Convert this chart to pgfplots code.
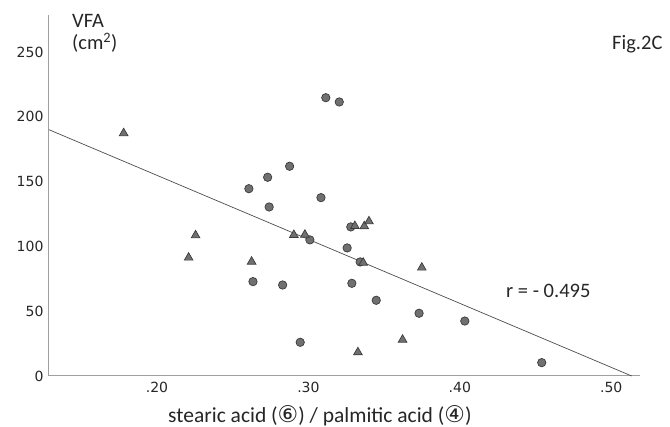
\documentclass[border=0pt]{standalone}
\usepackage{pgfplots}
\pgfplotsset{compat=1.18}
\usepackage{fontspec}
\setmainfont{Carlito}
\newfontfamily\dejavu{DejaVu Sans}
\definecolor{mk}{HTML}{707070}
\definecolor{mkedge}{HTML}{3A3A3A}
\definecolor{txt}{HTML}{262626}
\begin{document}
\begin{tikzpicture}[x=1pt,y=1pt]
\path[use as bounding box] (0,0) rectangle (670,427);
\begin{axis}[
  at={(49pt,51pt)}, anchor=origin,
  scale only axis, width=591pt, height=361pt,
  xmin=0.1287, xmax=0.519, ymin=0, ymax=278.5,
  axis x line*=bottom, axis y line*=left,
  axis line style={draw=gray!75, line width=1pt, -},
  xtick={0.2,0.3,0.4,0.5}, xticklabels={.20,.30,.40,.50},
  ytick={0,50,100,150,200,250},
  major tick length=0pt,
  tick label style={font=\dejavu\fontsize{14}{16}\selectfont, text=txt},
  /pgf/number format/assume math mode=true,
  xticklabel style={yshift=-3pt},
  yticklabel style={xshift=-2pt},
  clip=false,
]
\addplot[color=black!70, line width=0.7pt] coordinates {(0.1287,190) (0.5135,0)};
\addplot[only marks, mark=*, mark size=4.2pt, mark options={fill=mk, draw=mkedge, line width=0.7pt}] coordinates {
(0.3115,214.7) (0.3204,211.4) (0.2876,161.8) (0.2731,153.3) (0.2607,144.5)
(0.3083,137.6) (0.2741,130.4) (0.3280,115.0) (0.3010,105.0) (0.3256,98.8)
(0.3342,88.0) (0.2634,72.8) (0.2830,70.2) (0.2946,26.0) (0.3287,71.5)
(0.3448,58.4) (0.3731,48.4) (0.4033,42.4) (0.4541,10.3)
};
\addplot[only marks, mark=triangle*, mark size=5pt, mark options={fill=mk, draw=mkedge, line width=0.7pt}] coordinates {
(0.1780,187.3) (0.2255,108.5) (0.2209,91.3) (0.2625,88.2) (0.2904,108.8)
(0.2977,109.0) (0.3307,115.7) (0.3369,115.5) (0.3400,119.3) (0.3362,87.4)
(0.3749,83.6) (0.3622,28.0) (0.3327,18.3)
};
\end{axis}
\begin{scope}[every node/.style={text=txt, inner sep=0pt}]
\node[anchor=base west, font=\fontsize{20.5}{24}\selectfont] at (72,399) {VFA};
\node[anchor=base west, font=\fontsize{20.5}{24}\selectfont] at (72,377) {(cm\textsuperscript{2})};
\node[anchor=base west, font=\fontsize{20.5}{24}\selectfont] at (612,377) {Fig.2C};
\node[anchor=base west, font=\fontsize{20.5}{24}\selectfont] at (506,129) {r = - 0.495};
\node[anchor=base west, font=\fontsize{21.5}{24}\selectfont] at (168,4) {stearic acid ({\dejavu\fontsize{23}{24}\selectfont ⑥}) / palmitic acid ({\dejavu\fontsize{23}{24}\selectfont ④})};
\end{scope}
\end{tikzpicture}
\end{document}
